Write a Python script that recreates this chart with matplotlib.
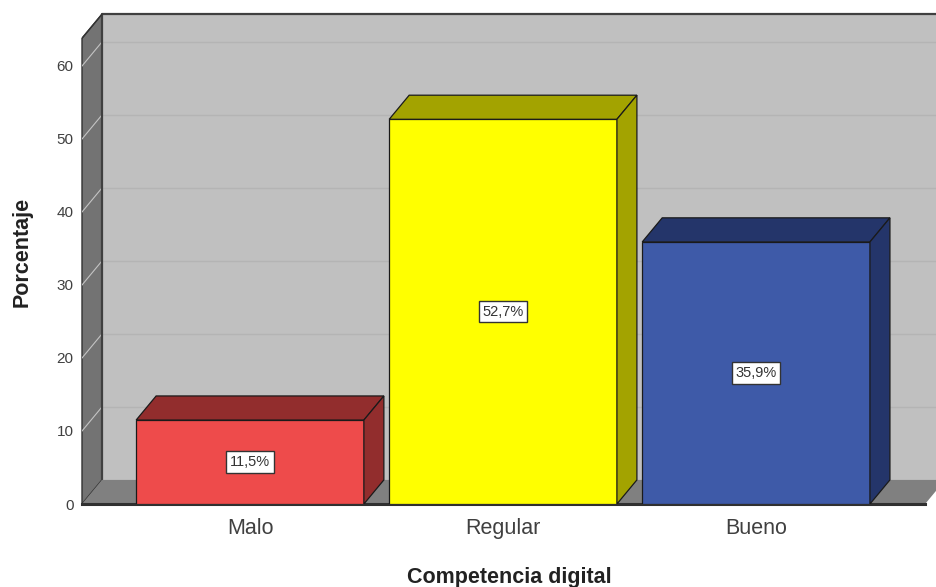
import matplotlib
matplotlib.use("Agg")
import matplotlib.pyplot as plt
from matplotlib.patches import Polygon

plt.rcParams['font.family'] = ['Liberation Sans', 'DejaVu Sans']

# data
categories = ['Malo', 'Regular', 'Bueno']
percent = [11.5, 52.7, 35.9]
labels = ['11,5%', '52,7%', '35,9%']
front_colors = ['#ee4b4b', '#ffff00', '#3e5aa8']
side_colors = ['#922d2d', '#a3a300', '#24356a']
yticks = [0, 10, 20, 30, 40, 50, 60]

# 3d look
dx, dy = 0.079, 3.3
bar_w = 0.9
x_left, x_right = -0.664, 2.711
floor_end = 2.668
wall_top = 63.8

fig = plt.figure(figsize=(9.36, 5.87), dpi=100)
ax = fig.add_axes([82 / 936, 83 / 587, 854 / 936, 504 / 587])
ax.set_xlim(x_left, x_right)
ax.set_ylim(0, 69.04)

# left wall
ax.add_patch(Polygon([(x_left, 0), (x_left + dx, dy), (x_left + dx, wall_top + dy),
                      (x_left, wall_top)], closed=True, fc='#737373', ec='#333333',
                     lw=1, clip_on=False, zorder=1))
# back wall
ax.add_patch(Polygon([(x_left + dx, dy), (x_right + 1, dy), (x_right + 1, wall_top + dy),
                      (x_left + dx, wall_top + dy)], closed=True, fc='#c0c0c0',
                     ec='none', zorder=1))
ax.plot([x_left + dx, x_left + dx, x_right], [dy, wall_top + dy, wall_top + dy],
        color='#404040', lw=1.6, zorder=2, clip_on=False)
ax.plot([x_left, x_left + dx], [wall_top, wall_top + dy], color='#333333', lw=1, zorder=2)
# floor
ax.add_patch(Polygon([(x_left, 0), (floor_end, 0), (floor_end + dx, dy),
                      (x_left + dx, dy)], closed=True, fc='#808080', ec='none', zorder=2))
ax.plot([x_left, floor_end], [0, 0], color='#303030', lw=2.2, zorder=2, clip_on=False)

# grid lines
for v in yticks[1:]:
    ax.plot([x_left + dx, x_right], [v + dy, v + dy], color='#b4b4b4', lw=1, zorder=1.5)
    ax.plot([x_left, x_left + dx], [v, v + dy], color='#c4c4c4', lw=0.8, zorder=1.5)

# bars
xs = list(range(len(categories)))
ax.bar(xs, percent, width=bar_w, color=front_colors, edgecolor='#1a1a1a',
       linewidth=0.9, zorder=3)
for x, v, sc, lab in zip(xs, percent, side_colors, labels):
    l, r = x - bar_w / 2, x + bar_w / 2
    ax.add_patch(Polygon([(l, v), (r, v), (r + dx, v + dy), (l + dx, v + dy)],
                         closed=True, fc=sc, ec='#1a1a1a', lw=0.9, zorder=3))
    ax.add_patch(Polygon([(r, 0), (r + dx, dy), (r + dx, v + dy), (r, v)],
                         closed=True, fc=sc, ec='#1a1a1a', lw=0.9, zorder=3))
    ax.text(x, v / 2, lab, ha='center', va='center', fontsize=10.5, color='#333333',
            zorder=4, bbox=dict(boxstyle='square,pad=0.25', fc='white', ec='#333333', lw=1))

# axes
for s in ax.spines.values():
    s.set_visible(False)
ax.set_yticks(yticks)
ax.set_yticklabels([str(t) for t in yticks], fontsize=11, color='#404040')
ax.set_xticks(xs)
ax.set_xticklabels(categories, fontsize=15.5, color='#404040')
ax.tick_params(axis='both', length=0)
ax.tick_params(axis='y', pad=6)
ax.tick_params(axis='x', pad=10)
ax.set_xlabel('Competencia digital', fontsize=15.5, fontweight='bold', color='#222222',
              labelpad=20)
ax.set_ylabel('Porcentaje', fontsize=15.5, fontweight='bold', color='#222222', labelpad=17)

fig.savefig('out.png', dpi=100)
